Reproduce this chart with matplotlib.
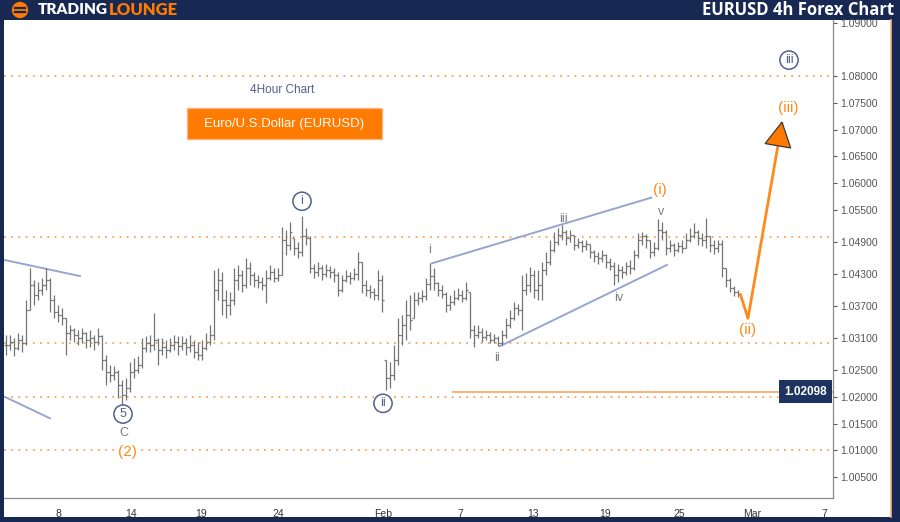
import numpy as np
import matplotlib.pyplot as plt
from matplotlib.patches import Rectangle, FancyBboxPatch, Polygon, Circle

# EURUSD 4h bars (one entry per bar, left to right)
closes = [1.0297, 1.0302, 1.0291, 1.0306, 1.0301, 1.0362, 1.0409, 1.0390, 1.0400, 1.0409,
          1.0418, 1.0381, 1.0359, 1.0353, 1.0347, 1.0319, 1.0325, 1.0316, 1.0310, 1.0319,
          1.0306, 1.0310, 1.0302, 1.0314, 1.0269, 1.0246, 1.0241, 1.0246, 1.0222, 1.0203,
          1.0216, 1.0246, 1.0250, 1.0260, 1.0291, 1.0301, 1.0297, 1.0306, 1.0288, 1.0293,
          1.0288, 1.0297, 1.0302, 1.0295, 1.0301, 1.0293, 1.0297, 1.0284, 1.0278, 1.0291,
          1.0302, 1.0316, 1.0400, 1.0418, 1.0381, 1.0372, 1.0381, 1.0418, 1.0428, 1.0409,
          1.0441, 1.0428, 1.0418, 1.0415, 1.0409, 1.0422, 1.0433, 1.0422, 1.0428, 1.0493,
          1.0484, 1.0508, 1.0478, 1.0471, 1.0501, 1.0497, 1.0441, 1.0433, 1.0441, 1.0430,
          1.0437, 1.0433, 1.0428, 1.0400, 1.0418, 1.0426, 1.0422, 1.0430, 1.0452, 1.0409,
          1.0400, 1.0396, 1.0390, 1.0418, 1.0381, 1.0235, 1.0241, 1.0269, 1.0316, 1.0334,
          1.0353, 1.0344, 1.0381, 1.0385, 1.0388, 1.0411, 1.0426, 1.0413, 1.0400, 1.0392,
          1.0372, 1.0377, 1.0385, 1.0390, 1.0385, 1.0400, 1.0325, 1.0316, 1.0321, 1.0312,
          1.0316, 1.0306, 1.0310, 1.0301, 1.0316, 1.0334, 1.0347, 1.0366, 1.0362, 1.0400,
          1.0409, 1.0428, 1.0400, 1.0409, 1.0437, 1.0452, 1.0475, 1.0489, 1.0503, 1.0508,
          1.0497, 1.0503, 1.0484, 1.0489, 1.0482, 1.0486, 1.0471, 1.0463, 1.0460, 1.0465,
          1.0452, 1.0445, 1.0428, 1.0437, 1.0433, 1.0445, 1.0441, 1.0465, 1.0493, 1.0501,
          1.0493, 1.0471, 1.0478, 1.0512, 1.0508, 1.0478, 1.0484, 1.0475, 1.0482, 1.0478,
          1.0493, 1.0501, 1.0508, 1.0497, 1.0493, 1.0501, 1.0484, 1.0478, 1.0486, 1.0441,
          1.0418, 1.0403, 1.0396, 1.0392]
highs = [1.0316, 1.0316, 1.0310, 1.0319, 1.0316, 1.0381, 1.0441, 1.0418, 1.0415, 1.0422,
         1.0441, 1.0422, 1.0390, 1.0372, 1.0366, 1.0347, 1.0334, 1.0329, 1.0325, 1.0329,
         1.0321, 1.0325, 1.0316, 1.0329, 1.0316, 1.0278, 1.0260, 1.0258, 1.0250, 1.0231,
         1.0235, 1.0265, 1.0273, 1.0276, 1.0310, 1.0314, 1.0316, 1.0357, 1.0310, 1.0310,
         1.0306, 1.0310, 1.0316, 1.0314, 1.0314, 1.0310, 1.0316, 1.0306, 1.0302, 1.0306,
         1.0319, 1.0334, 1.0437, 1.0441, 1.0433, 1.0400, 1.0396, 1.0441, 1.0447, 1.0437,
         1.0460, 1.0452, 1.0433, 1.0428, 1.0424, 1.0437, 1.0447, 1.0441, 1.0441, 1.0517,
         1.0512, 1.0527, 1.0497, 1.0489, 1.0538, 1.0516, 1.0501, 1.0448, 1.0452, 1.0447,
         1.0448, 1.0445, 1.0441, 1.0433, 1.0428, 1.0437, 1.0433, 1.0441, 1.0471, 1.0452,
         1.0418, 1.0409, 1.0403, 1.0437, 1.0428, 1.0269, 1.0265, 1.0297, 1.0347, 1.0353,
         1.0381, 1.0390, 1.0396, 1.0396, 1.0400, 1.0422, 1.0450, 1.0441, 1.0415, 1.0409,
         1.0396, 1.0390, 1.0400, 1.0403, 1.0400, 1.0415, 1.0396, 1.0334, 1.0334, 1.0329,
         1.0325, 1.0321, 1.0317, 1.0314, 1.0325, 1.0347, 1.0362, 1.0377, 1.0374, 1.0428,
         1.0431, 1.0443, 1.0437, 1.0437, 1.0452, 1.0471, 1.0493, 1.0508, 1.0516, 1.0521,
         1.0512, 1.0512, 1.0503, 1.0497, 1.0493, 1.0493, 1.0486, 1.0475, 1.0471, 1.0475,
         1.0467, 1.0460, 1.0452, 1.0448, 1.0445, 1.0452, 1.0456, 1.0475, 1.0506, 1.0508,
         1.0504, 1.0493, 1.0489, 1.0532, 1.0527, 1.0512, 1.0493, 1.0488, 1.0489, 1.0493,
         1.0506, 1.0516, 1.0525, 1.0512, 1.0506, 1.0534, 1.0501, 1.0493, 1.0493, 1.0493,
         1.0441, 1.0422, 1.0407, 1.0400]
lows = [1.0278, 1.0288, 1.0276, 1.0288, 1.0284, 1.0297, 1.0362, 1.0372, 1.0381, 1.0390,
        1.0400, 1.0359, 1.0347, 1.0340, 1.0334, 1.0278, 1.0306, 1.0302, 1.0297, 1.0301,
        1.0291, 1.0293, 1.0288, 1.0297, 1.0250, 1.0222, 1.0228, 1.0231, 1.0198, 1.0185,
        1.0194, 1.0209, 1.0235, 1.0244, 1.0254, 1.0284, 1.0284, 1.0288, 1.0260, 1.0278,
        1.0273, 1.0284, 1.0288, 1.0278, 1.0288, 1.0278, 1.0284, 1.0273, 1.0269, 1.0269,
        1.0288, 1.0297, 1.0306, 1.0381, 1.0353, 1.0347, 1.0353, 1.0372, 1.0400, 1.0396,
        1.0403, 1.0409, 1.0405, 1.0403, 1.0400, 1.0375, 1.0418, 1.0415, 1.0417, 1.0428,
        1.0465, 1.0475, 1.0465, 1.0460, 1.0463, 1.0484, 1.0431, 1.0422, 1.0426, 1.0418,
        1.0424, 1.0422, 1.0415, 1.0388, 1.0396, 1.0415, 1.0411, 1.0418, 1.0418, 1.0394,
        1.0388, 1.0385, 1.0381, 1.0381, 1.0359, 1.0213, 1.0216, 1.0231, 1.0260, 1.0297,
        1.0306, 1.0325, 1.0347, 1.0372, 1.0377, 1.0381, 1.0400, 1.0400, 1.0388, 1.0385,
        1.0359, 1.0362, 1.0372, 1.0381, 1.0377, 1.0381, 1.0310, 1.0293, 1.0310, 1.0302,
        1.0306, 1.0301, 1.0301, 1.0295, 1.0297, 1.0310, 1.0329, 1.0344, 1.0353, 1.0325,
        1.0390, 1.0396, 1.0385, 1.0381, 1.0381, 1.0428, 1.0447, 1.0471, 1.0484, 1.0493,
        1.0484, 1.0489, 1.0475, 1.0478, 1.0471, 1.0475, 1.0460, 1.0452, 1.0448, 1.0452,
        1.0441, 1.0437, 1.0409, 1.0415, 1.0422, 1.0428, 1.0430, 1.0437, 1.0460, 1.0484,
        1.0478, 1.0460, 1.0463, 1.0475, 1.0493, 1.0465, 1.0471, 1.0463, 1.0471, 1.0469,
        1.0478, 1.0489, 1.0497, 1.0484, 1.0482, 1.0478, 1.0471, 1.0467, 1.0471, 1.0424,
        1.0405, 1.0396, 1.0388, 1.0387]

# x axis labels (bar positions of the date labels)
tick_pos = [13.5, 31.75, 49.25, 68.5, 94.75, 114, 132.25, 150.25, 168.75, 187, 205]
tick_lab = ['8', '14', '19', '24', 'Feb', '7', '13', '19', '25', 'Mar', '7']
y_ticks = [1.005, 1.01, 1.015, 1.02, 1.025, 1.031, 1.037, 1.043, 1.049, 1.055,
           1.06, 1.065, 1.07, 1.075, 1.08, 1.09]
levels = [1.08, 1.05, 1.03, 1.02, 1.01]
last_price = 1.02098
last_start = 112

# analyst's trend lines and projection
trend_lines = [([0.25, 19], [1.0456, 1.0426]),
               ([0.25, 11.5], [1.0200, 1.0160]),
               ([107, 163.25], [1.0450, 1.0576]),
               ([124, 165.75], [1.0295, 1.0447])]
proj_x = [184, 186, 194.5]
proj_y = [1.0394, 1.0347, 1.0714]

circle_labels = [('i', 74.5, 1.0566), ('ii', 94.75, 1.0188), ('5', 29.75, 1.0168),
                 ('iii', 196.25, 1.0830)]
grey_labels = [('i', 106.5, 1.0475), ('ii', 123.25, 1.0273), ('iii', 139.75, 1.0533),
               ('iv', 153.75, 1.0385), ('v', 164.25, 1.0546), ('C', 30, 1.0132)]
orange_labels = [('(i)', 164, 1.0587), ('(ii)', 186, 1.0325), ('(iii)', 196, 1.0740),
                 ('(2)', 30.75, 1.0097)]

navy = '#172852'
orange = '#ff8a1c'
blue_txt = '#50618f'
plt.rcParams['font.family'] = ['Liberation Sans', 'DejaVu Sans']

fig = plt.figure(figsize=(9, 5.22), dpi=100)
fig.patch.set_facecolor(navy)
fig.add_artist(Rectangle((4 / 900, 5 / 522), 887 / 900, 497 / 522,
                         transform=fig.transFigure, fc='white', ec='none', zorder=0))
fig.add_artist(plt.Line2D([891 / 900, 891 / 900], [5 / 522, 502 / 522],
                          transform=fig.transFigure, color='#f9b27a', lw=1.2))

ax = fig.add_axes([4 / 900, 24 / 522, 829 / 900, 478 / 522])
ax.set_facecolor('white')
ax.set_xlim(0, 207.25)
ax.set_ylim(1.0011, 1.0905)

n = len(closes)
xs = np.arange(n) + 0.5
c = np.array(closes)
h = np.array(highs)
lo = np.array(lows)
opens = np.clip(np.r_[c[0], c[:-1]], lo, h)
bar_col = '#747474'
ax.vlines(xs, lo, h, color=bar_col, lw=0.9, zorder=3)
ax.hlines(opens, xs - 0.5, xs, color=bar_col, lw=0.9, zorder=3)
ax.hlines(c, xs, xs + 0.5, color=bar_col, lw=0.9, zorder=3)

for lv in levels:
    ax.axhline(lv, color='#f8a556', lw=1.3, ls=(0, (1, 3)), zorder=1)
ax.hlines(last_price, last_start, 207.25, color='#f9b27a', lw=1.4, zorder=2)
ax.text(0.9925, last_price, '%.5f' % last_price, transform=ax.get_yaxis_transform(),
        ha='right', va='center', color='white', fontsize=8.5, fontweight='bold',
        bbox=dict(boxstyle='square,pad=0.45', fc='#1d3461', ec='none'), zorder=6)

for tx, ty in trend_lines:
    ax.plot(tx, ty, color='#97a6cf', lw=1.4, zorder=2)

ax.plot(proj_x, proj_y, color=orange, lw=2, zorder=4, solid_capstyle='butt')

for s, x, y in circle_labels:
    ax.text(x, y, s, ha='center', va='center', color=blue_txt, fontsize=9,
            bbox=dict(boxstyle='circle,pad=0.25', fc='white', ec=blue_txt, lw=1.1), zorder=6)
for s, x, y in grey_labels:
    ax.text(x, y, s, ha='center', va='center', color='#7b7b7b', fontsize=9, zorder=6)
for s, x, y in orange_labels:
    ax.text(x, y, s, ha='center', va='center', color=orange, fontsize=11, zorder=6,
            bbox=dict(boxstyle='square,pad=0.05', fc='white', ec='none'))

ax.set_xticks(tick_pos)
ax.set_xticklabels(tick_lab, family=['Liberation Sans Narrow', 'Liberation Sans'])
ax.set_yticks(y_ticks)
ax.set_yticklabels(['%.5f' % v for v in y_ticks])
ax.yaxis.tick_right()
ax.tick_params(axis='x', length=0, pad=8, labelsize=7.5, colors='#333333')
ax.tick_params(axis='y', length=3, width=0.8, pad=2, labelsize=7.5, colors='#555555')
for side in ['top', 'left']:
    ax.spines[side].set_visible(False)
for side in ['right', 'bottom']:
    ax.spines[side].set_color('#8a8a8a')
    ax.spines[side].set_linewidth(0.9)

# arrow head at the end of the projection
fig.canvas.draw()
tip = ax.transData.transform((proj_x[-1], proj_y[-1]))
back = ax.transData.transform((proj_x[-2], proj_y[-2]))
u = (tip - back) / np.hypot(*(tip - back))
nrm = np.array([-u[1], u[0]])
head = np.array([tip, tip - 24 * u + 13 * nrm, tip - 24 * u - 13 * nrm])
ax.add_patch(Polygon(ax.transData.inverted().transform(head), closed=True,
                     fc='#ff7a00', ec='#3a3a3a', lw=0.9, zorder=5))

# header
fig.text(894 / 900, 1 - 10 / 522, 'EURUSD 4h Forex Chart', ha='right', va='center',
         color='white', fontsize=12, fontweight='bold', family='Open Sans')
lax = fig.add_axes([10 / 900, 1 - 19 / 522, 20 / 900, 18 / 522])
lax.set_xlim(-1.1, 1.1)
lax.set_ylim(-1.1, 1.1)
lax.set_aspect('equal')
lax.axis('off')
lax.add_patch(Circle((0, 0), 1, fc='#ff7a00', ec='none'))
lax.plot([-0.6, 0.6], [0.28, 0.28], color=navy, lw=1.6)
lax.plot([-0.6, 0.6], [-0.28, -0.28], color=navy, lw=1.6)
fig.text(38 / 900, 1 - 10 / 522, 'TRADING', ha='left', va='center', color='white',
         fontsize=11, fontweight='heavy', family='Lato')
fig.text(109 / 900, 1 - 10 / 522, 'LOUNGE', ha='left', va='center', color='#ff7a00',
         fontsize=12, fontweight='heavy', family='Lato')

# chart captions
fig.text(282 / 900, 1 - 90 / 522, '4Hour Chart', ha='center', va='center',
         color=blue_txt, fontsize=8.5)
fig.add_artist(FancyBboxPatch((187 / 900, 1 - 139 / 522), 195 / 900, 31 / 522,
                              boxstyle='square,pad=0', transform=fig.transFigure,
                              fc='#ff7a00', ec='#ffb27a', lw=1, ls='--', zorder=5))
fig.text(284.5 / 900, 1 - 123.5 / 522, 'Euro/U.S.Dollar (EURUSD)', ha='center',
         va='center', color='white', fontsize=9.5, zorder=6)

fig.savefig('out.png', dpi=100, facecolor=fig.get_facecolor())
